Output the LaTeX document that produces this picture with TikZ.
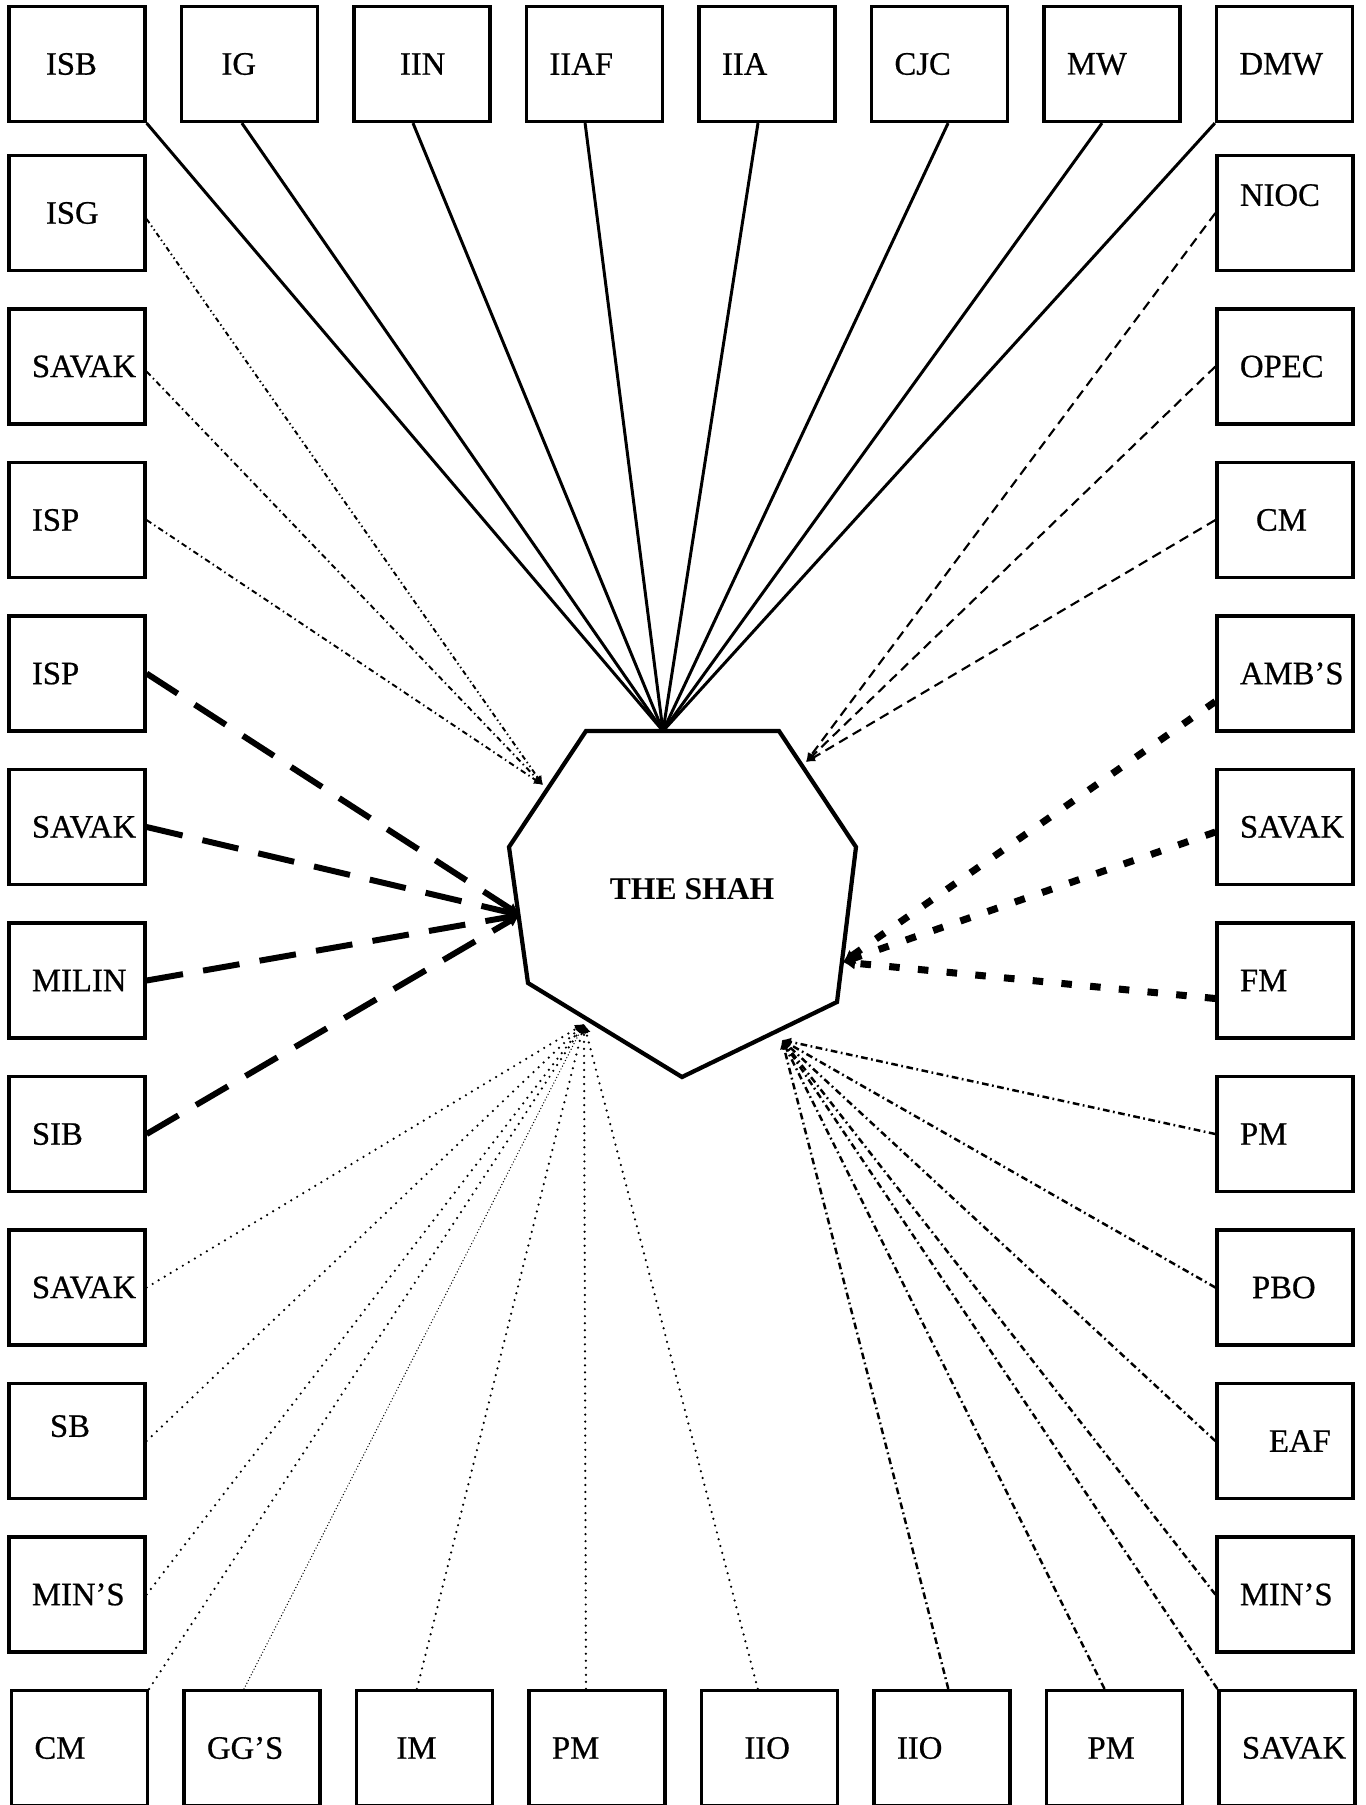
\documentclass[tikz,border=0pt]{standalone}
\usepackage{fontspec}
\setmainfont{Liberation Serif}
\newfontfamily\boxfont{Liberation Serif}[FakeBold=0.6]
\usetikzlibrary{arrows.meta}

\tikzset{
  box/.style={draw, line width=0.9pt, minimum width=1.36cm, minimum height=1.15cm,
    text width=0.9cm, align=left, inner xsep=0.23cm, inner ysep=0pt,
    font=\boxfont\fontsize{9.3}{11}\selectfont},
  ind/.style={execute at begin node={\hspace*{#1}}},
  lift/.style={text depth=#1},
  endtip/.style={-{Latex[length=0.9mm,width=0.9mm]}},
  bigtip/.style={-{Latex[length=1.2mm,width=1.3mm]}},
  solidlink/.style={line width=0.85pt},
  ulA/.style={endtip, line width=0.55pt, dash pattern=on 1.4pt off 0.9pt on 0.4pt off 0.9pt on 0.4pt off 0.9pt},
  ulB/.style={endtip, line width=0.55pt, dash pattern=on 1.6pt off 1pt on 0.4pt off 1pt},
  urlink/.style={endtip, line width=0.6pt, dash pattern=on 2.8pt off 1.7pt},
  mllink/.style={bigtip, line width=1.7pt, dash pattern=on 10.5pt off 5.8pt},
  mrlink/.style={bigtip, line width=2pt, dash pattern=on 3pt off 5.2pt},
  bllink/.style={endtip, line width=0.7pt, line cap=round, dash pattern=on 0pt off 2pt},
  blfine/.style={endtip, line width=0.4pt, line cap=round, dash pattern=on 0pt off 0.9pt},
  brlink/.style={endtip, line width=0.7pt, dash pattern=on 1.9pt off 1pt on 0.5pt off 1pt},
  shah/.style={line width=1.2pt, line join=miter}
}

\begin{document}
\begin{tikzpicture}[x=0.01cm, y=-0.01cm]
    \useasboundingbox (0,0) rectangle (1366,1805);

    \coordinate (h1) at (586,731);
    \coordinate (h2) at (779,731);
    \coordinate (h3) at (856,847);
    \coordinate (h4) at (837,1002);
    \coordinate (h5) at (682,1077);
    \coordinate (h6) at (528,983);
    \coordinate (h7) at (509,847);
    \draw[shah] (h1) -- (h2) -- (h3) -- (h4) -- (h5) -- (h6) -- (h7) -- cycle;
    \node[font=\fontsize{9}{11}\selectfont\bfseries] (theshah) at (692,889) {THE SHAH};

    \coordinate (apex) at (663,731);
    \coordinate (ul) at (543,785);
    \coordinate (ur) at (806,762);
    \coordinate (ml) at (520,915);
    \coordinate (mr) at (843,962);
    \coordinate (bl) at (584,1024);
    \coordinate (br) at (782,1040);

    \node[box, ind=1.4mm] (isb) at (77,64) {ISB};
    \node[box, ind=1.7mm] (ig) at (249.5,64) {IG};
    \node[box, ind=2.3mm] (iin) at (422,64) {IIN};
    \node[box] (iiaf) at (594.5,64) {IIAF};
    \node[box] (iia) at (767,64) {IIA};
    \node[box] (cjc) at (939.5,64) {CJC};
    \node[box] (mw) at (1112,64) {MW};
    \node[box] (dmw) at (1284.5,64) {DMW};

    \draw[solidlink] (isb.south east) -- (apex);
    \draw[solidlink] ([xshift=-0.76mm]ig.south) -- (apex);
    \draw[solidlink] ([xshift=-0.9mm]iin.south) -- (apex);
    \draw[solidlink] ([xshift=-0.94mm]iiaf.south) -- (apex);
    \draw[solidlink] ([xshift=-0.9mm]iia.south) -- (apex);
    \draw[solidlink] ([xshift=0.86mm]cjc.south) -- (apex);
    \draw[solidlink] ([xshift=-1mm]mw.south) -- (apex);
    \draw[solidlink] (dmw.south west) -- (apex);

    \node[box, ind=1.4mm] (isg) at (77,213) {ISG};
    \node[box] (savakA) at (77,366.5) {SAVAK};
    \node[box] (ispA) at (77,520) {ISP};

    \draw[ulA] ([yshift=-0.6mm]isg.east) -- (ul);
    \draw[ulB] ([yshift=-0.5mm]savakA.east) -- (ul);
    \draw[ulB] (ispA.east) -- (ul);

    \node[box, lift=0.36cm] (nioc) at (1285,213) {NIOC};
    \node[box] (opec) at (1285,366.5) {OPEC};
    \node[box, ind=1.6mm] (cmR) at (1285,520) {CM};

    \draw[urlink] (nioc.west) -- (ur);
    \draw[urlink] (opec.west) -- (ur);
    \draw[urlink] (cmR.west) -- (ur);

    \node[box] (ispB) at (77,673.5) {ISP};
    \node[box] (savakB) at (77,827) {SAVAK};
    \node[box] (milin) at (77,980.5) {MILIN};
    \node[box] (sib) at (77,1134) {SIB};

    \draw[mllink] (ispB.east) -- (ml);
    \draw[mllink] (savakB.east) -- (ml);
    \draw[mllink] (milin.east) -- (ml);
    \draw[mllink] (sib.east) -- (ml);

    \node[box] (ambs) at (1285,673.5) {AMB’S};
    \node[box] (savakD) at (1285,827) {SAVAK};
    \node[box] (fm) at (1285,980.5) {FM};

    \draw[mrlink] ([yshift=-2.8mm]ambs.west) -- (mr);
    \draw[mrlink] ([yshift=-0.5mm]savakD.west) -- (mr);
    \draw[mrlink] ([yshift=-1.8mm]fm.west) -- (mr);

    \node[box] (savakC) at (77,1287.5) {SAVAK};
    \node[box, ind=1.8mm, lift=0.3cm] (sb) at (77,1441) {SB};
    \node[box] (minsL) at (77,1594.5) {MIN’S};
    \node[box] (cmB) at (79.5,1748) {CM};
    \node[box] (ggs) at (252,1748) {GG’S};
    \node[box, ind=1.7mm] (im) at (424.5,1748) {IM};
    \node[box] (pmB) at (597,1748) {PM};
    \node[box, ind=2mm] (iioA) at (769.5,1748) {IIO};

    \draw[bllink] (savakC.east) -- (bl);
    \draw[bllink] (sb.east) -- (bl);
    \draw[bllink] (minsL.east) -- (bl);
    \draw[bllink] (cmB.north east) -- (bl);
    \draw[blfine] ([xshift=-0.8mm]ggs.north) -- (bl);
    \draw[bllink] ([xshift=-0.76mm]im.north) -- (bl);
    \draw[bllink] ([xshift=-1.1mm]pmB.north) -- (bl);
    \draw[bllink] ([xshift=-1.17mm]iioA.north) -- (bl);

    \node[box] (pmA) at (1285,1134) {PM};
    \node[box, ind=1.2mm] (pbo) at (1285,1287.5) {PBO};
    \node[box, ind=2.9mm] (eaf) at (1285,1441) {EAF};
    \node[box] (minsR) at (1285,1594.5) {MIN’S};
    \node[box] (iioB) at (942,1748) {IIO};
    \node[box, ind=1.8mm] (pmC) at (1114.5,1748) {PM};
    \node[box] (savakE) at (1287,1748) {SAVAK};

    \draw[brlink] (pmA.west) -- (br);
    \draw[brlink] (pbo.west) -- (br);
    \draw[brlink] (eaf.west) -- (br);
    \draw[brlink] (minsR.west) -- (br);
    \draw[brlink] (savakE.north west) -- (br);
    \draw[brlink] ([xshift=-1mm]pmC.north) -- (br);
    \draw[brlink] ([xshift=0.63mm]iioB.north) -- (br);
\end{tikzpicture}
\end{document}
